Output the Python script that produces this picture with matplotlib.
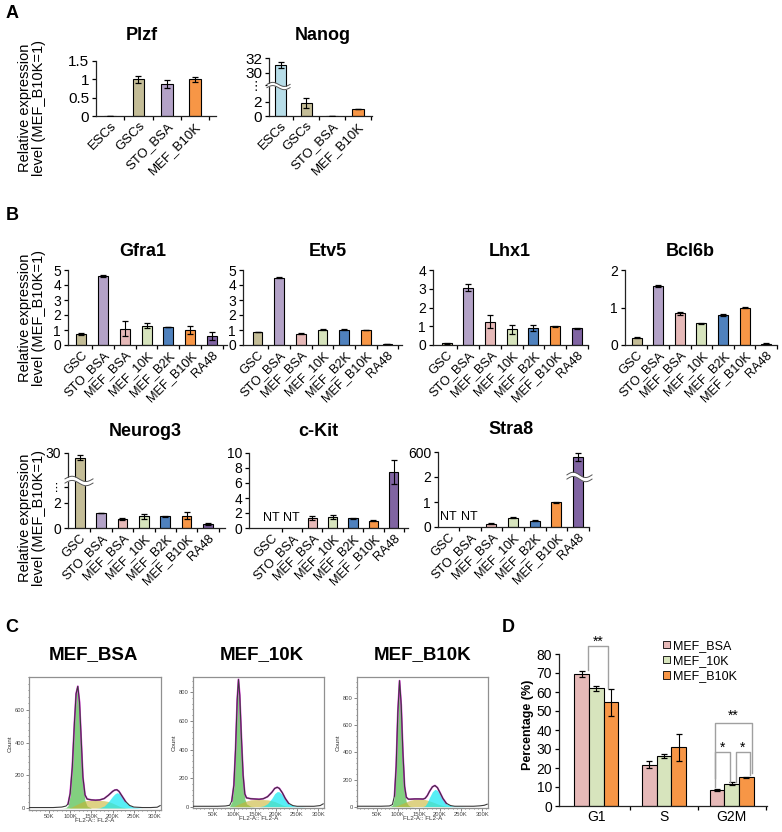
import numpy as np
import matplotlib
matplotlib.use("Agg")
import matplotlib.pyplot as plt
from matplotlib import transforms
from matplotlib.patches import Patch
from matplotlib.ticker import MultipleLocator, NullLocator

plt.rcParams['font.family'] = ['Liberation Sans', 'DejaVu Sans']

W, H = 782, 832
fig = plt.figure(figsize=(W / 100, H / 100), dpi=100)

# ---------------- data ----------------
colors = {'ESCs': '#b7dde8', 'GSCs': '#c4bd97', 'GSC': '#c4bd97', 'STO_BSA': '#b3a2c7',
          'MEF_B10K': '#f79646', 'MEF_BSA': '#e6b9b8', 'MEF_10K': '#d7e4bd',
          'MEF_B2K': '#4f81bd', 'RA48': '#8064a2'}

a_groups = ['ESCs', 'GSCs', 'STO_BSA', 'MEF_B10K']
plzf = [0.01, 1.0, 0.87, 1.0]
plzf_err = [0.0, 0.1, 0.12, 0.06]
nanog = [31.0, 1.9, 0.05, 1.0]
nanog_err = [0.4, 0.7, 0.0, 0.03]

b_groups = ['GSC', 'STO_BSA', 'MEF_BSA', 'MEF_10K', 'MEF_B2K', 'MEF_B10K', 'RA48']
gfra1 = [0.73, 4.62, 1.1, 1.3, 1.2, 1.0, 0.62]
gfra1_err = [0.05, 0.08, 0.5, 0.15, 0.02, 0.25, 0.27]
etv5 = [0.87, 4.5, 0.75, 1.03, 1.03, 1.0, 0.05]
etv5_err = [0.03, 0.05, 0.02, 0.02, 0.02, 0.02, 0.01]
lhx1 = [0.1, 3.05, 1.25, 0.83, 0.9, 1.0, 0.9]
lhx1_err = [0.02, 0.18, 0.33, 0.22, 0.15, 0.03, 0.03]
bcl6b = [0.2, 1.58, 0.85, 0.58, 0.8, 1.0, 0.04]
bcl6b_err = [0.01, 0.02, 0.04, 0.01, 0.02, 0.01, 0.01]
neurog3 = [29.6, 1.2, 0.75, 0.93, 0.96, 1.0, 0.3]
neurog3_err = [0.2, 0.02, 0.08, 0.2, 0.04, 0.25, 0.08]
ckit = [np.nan, np.nan, 1.35, 1.45, 1.3, 1.0, 7.4]
ckit_err = [0, 0, 0.25, 0.25, 0.05, 0.08, 1.6]
stra8 = [np.nan, np.nan, 0.13, 0.38, 0.25, 1.0, 575]
stra8_err = [0, 0, 0.02, 0.02, 0.02, 0.02, 20]

# flow cytometry histograms (x in K, counts)
h1_x = [0, 60, 80, 90, 95, 100, 105, 110, 114, 118, 122, 126, 130, 135, 140, 150,
        160, 170, 180, 190, 200, 205, 210, 215, 220, 230, 240, 250, 270, 290, 305, 312]
h1_tot = [3, 3, 6, 12, 25, 90, 250, 520, 700, 745, 650, 420, 190, 80, 55, 50,
          48, 50, 58, 78, 102, 110, 112, 102, 82, 42, 16, 6, 3, 3, 5, 15]
h1_g1 = [0, 0, 0, 2, 15, 80, 240, 510, 690, 735, 630, 390, 160, 45, 12, 0,
         0, 0, 0, 0, 0, 0, 0, 0, 0, 0, 0, 0, 0, 0, 0, 0]
h1_s = [0, 0, 0, 0, 0, 3, 8, 15, 20, 25, 30, 35, 40, 44, 46, 48,
        48, 47, 45, 40, 30, 24, 18, 12, 7, 2, 0, 0, 0, 0, 0, 0]
h1_g2m = [0, 0, 0, 0, 0, 0, 0, 0, 0, 0, 0, 0, 0, 0, 0, 0,
          0, 2, 12, 38, 72, 86, 94, 90, 75, 40, 16, 5, 0, 0, 0, 0]

h2_x = [0, 60, 80, 90, 95, 100, 104, 108, 111, 114, 118, 122, 126, 130, 140, 150,
        160, 170, 180, 190, 197, 203, 208, 215, 222, 230, 240, 250, 270, 290, 305, 312]
h2_tot = [3, 3, 5, 10, 40, 150, 400, 750, 890, 780, 480, 220, 90, 62, 56, 54,
          52, 56, 70, 100, 128, 136, 128, 98, 58, 24, 8, 3, 3, 3, 8, 20]
h2_g1 = [0, 0, 0, 3, 32, 140, 385, 730, 870, 755, 450, 185, 55, 20, 3, 0,
         0, 0, 0, 0, 0, 0, 0, 0, 0, 0, 0, 0, 0, 0, 0, 0]
h2_s = [0, 0, 0, 0, 0, 3, 8, 14, 18, 22, 27, 32, 36, 40, 48, 50,
        50, 50, 48, 42, 36, 28, 22, 12, 6, 2, 0, 0, 0, 0, 0, 0]
h2_g2m = [0, 0, 0, 0, 0, 0, 0, 0, 0, 0, 0, 0, 0, 0, 0, 0,
          0, 5, 22, 58, 92, 106, 104, 84, 52, 22, 8, 3, 0, 0, 0, 0]

h3_x = [0, 60, 80, 87, 92, 96, 100, 104, 108, 112, 116, 120, 125, 130, 140, 150,
        160, 165, 170, 175, 182, 188, 194, 200, 207, 215, 225, 235, 260, 280, 295, 305, 312]
h3_tot = [3, 3, 5, 15, 80, 300, 700, 930, 750, 400, 150, 70, 55, 55, 57, 57,
          56, 62, 82, 112, 146, 156, 140, 104, 60, 25, 8, 3, 3, 3, 6, 10, 18]
h3_g1 = [0, 0, 0, 10, 70, 285, 680, 905, 720, 365, 115, 35, 10, 2, 0, 0,
         0, 0, 0, 0, 0, 0, 0, 0, 0, 0, 0, 0, 0, 0, 0, 0, 0]
h3_s = [0, 0, 0, 0, 2, 5, 10, 15, 20, 25, 30, 35, 42, 48, 54, 56,
        55, 52, 48, 42, 35, 28, 20, 14, 8, 3, 0, 0, 0, 0, 0, 0, 0]
h3_g2m = [0, 0, 0, 0, 0, 0, 0, 0, 0, 0, 0, 0, 0, 0, 0, 0,
          1, 8, 32, 68, 110, 128, 120, 90, 52, 22, 8, 3, 0, 0, 0, 0, 0]

# cell cycle
phases = ['G1', 'S', 'G2M']
d_series = ['MEF_BSA', 'MEF_10K', 'MEF_B10K']
pct_bsa = [69.5, 21.7, 8.6]
pct_bsa_err = [1.8, 1.8, 0.5]
pct_10k = [62.0, 26.4, 11.8]
pct_10k_err = [1.3, 1.2, 0.7]
pct_b10k = [54.5, 30.8, 15.2]
pct_b10k_err = [7.2, 7.2, 0.3]


def px_axes(x0, y0, x1, y1):
    return fig.add_axes([x0 / W, 1 - y1 / H, (x1 - x0) / W, (y1 - y0) / H])


def broken(v_pts, y_pts):
    return (lambda v: np.interp(v, v_pts, y_pts), lambda y: np.interp(y, y_pts, v_pts))


def style_axes(ax):
    for s in ['top', 'right']:
        ax.spines[s].set_visible(False)
    for s in ['left', 'bottom']:
        ax.spines[s].set_linewidth(0.9)
        ax.spines[s].set_color('#222222')
    ax.tick_params(axis='y', direction='out', length=3, width=0.9, pad=2)
    ax.tick_params(axis='x', which='major', length=0, pad=3)
    ax.tick_params(axis='x', which='minor', direction='out', length=3, width=0.9)
    ax.yaxis.set_minor_locator(NullLocator())
    ax.patch.set_alpha(0)


def bar_chart(rect, groups, vals, errs, xlim, ylim, yticks, ylabels, title, txy,
              xfs=9.2, yfs=10, width=0.46, scale=None):
    ax = px_axes(*rect)
    if scale is not None:
        ax.set_yscale('function', functions=scale)
    x = np.arange(len(groups))
    vals = np.asarray(vals, float)
    errs = np.asarray(errs, float)
    ok = np.isfinite(vals)
    cols = [colors[g] for g, k in zip(groups, ok) if k]
    ax.bar(x[ok], vals[ok], width=width, color=cols, edgecolor='black', linewidth=0.8, zorder=2)
    ax.errorbar(x[ok], vals[ok], yerr=errs[ok], fmt='none', ecolor='black',
                elinewidth=0.8, capsize=2.5, capthick=0.9, zorder=3)
    ax.set_xlim(*xlim)
    ax.set_ylim(*ylim)
    ax.set_yticks(yticks)
    ax.set_yticklabels(ylabels, fontsize=yfs)
    for t in ax.get_yticklabels():
        if t.get_text() == '\u22ee':
            t.set_fontsize(yfs - 2)
    ax.set_xticks(x)
    ax.set_xticklabels(groups, rotation=45, ha='right', rotation_mode='anchor', fontsize=xfs)
    ax.set_xticks(x + 0.5, minor=True)
    style_axes(ax)
    fig.text(txy[0] / W, 1 - txy[1] / H, title, fontsize=13, fontweight='bold',
             ha='center', va='center')
    return ax


def break_wave(ax, x0, x1, yfrac):
    tr = transforms.blended_transform_factory(ax.transData, ax.transAxes)
    t = np.linspace(0, 1, 60)
    xs = x0 + (x1 - x0) * t
    wig = 0.035 * np.sin(2 * np.pi * t)
    lo = yfrac - 0.028 + wig
    hi = yfrac + 0.028 + wig
    ax.fill_between(xs, lo, hi, transform=tr, color='white', zorder=6, clip_on=False, linewidth=0)
    ax.plot(xs, lo, transform=tr, color='#555555', lw=0.7, zorder=7, clip_on=False)
    ax.plot(xs, hi, transform=tr, color='#555555', lw=0.7, zorder=7, clip_on=False)


def nt_labels(ax, xs):
    tr = transforms.blended_transform_factory(ax.transData, ax.transAxes)
    for xx in xs:
        ax.text(xx, 0.135, 'NT', transform=tr, ha='center', va='center', fontsize=9)


def ylab(y):
    fig.text(32 / W, 1 - y / H, 'Relative expression\nlevel (MEF_B10K=1)', rotation=90,
             ha='center', va='center', fontsize=10.5, linespacing=0.92, multialignment='center')


# ---------------- panel A ----------------
bar_chart((96, 61, 216, 116), a_groups, plzf, plzf_err, (-0.5, 3.74), (0, 1.5),
          [0, 0.5, 1, 1.5], ['0', '0.5', '1', '1.5'], 'Plzf', (142, 35),
          xfs=9.5, yfs=11, width=0.42)
ax_n = bar_chart((269, 58, 372, 116), a_groups, nanog, nanog_err, (-0.45, 3.55), (0, 32),
                 [0, 2, 16, 30, 32], ['0', '2', '\u22ee', '30', '32'], 'Nanog', (323, 35),
                 xfs=9.5, yfs=11, width=0.45,
                 scale=broken([-10, 4.3, 28.5, 100], [-10, 4.3, 4.53, 81.0]))
break_wave(ax_n, -0.53, 0.37, 0.517)
ylab(108)

# ---------------- panel B ----------------
bar_chart((68, 270, 227, 345), b_groups, gfra1, gfra1_err, (-0.62, 6.7), (0, 5),
          range(6), [str(i) for i in range(6)], 'Gfra1', (143, 252))
bar_chart((243, 270, 402, 345), b_groups, etv5, etv5_err, (-0.67, 6.67), (0, 5),
          range(6), [str(i) for i in range(6)], 'Etv5', (328, 252))
bar_chart((433, 270, 588, 345), b_groups, lhx1, lhx1_err, (-0.63, 6.52), (0, 4),
          range(5), [str(i) for i in range(5)], 'Lhx1', (510, 252))
bar_chart((625, 270, 777, 345), b_groups, bcl6b, bcl6b_err, (-0.54, 6.48), (0, 2),
          [0, 1, 2], ['0', '1', '2'], 'Bcl6b', (690, 252))
ylab(318)

ax_ng = bar_chart((68, 453, 225, 528), b_groups, neurog3, neurog3_err, (-0.55, 6.8), (0, 30),
                  [0, 2, 3.3, 30], ['0', '2', '\u22ee', '30'], 'Neurog3', (145, 431),
                  scale=broken([-10, 3.6, 27.8, 100], [-10, 3.6, 3.8, 76.0]))
break_wave(ax_ng, -0.69, 0.62, 0.627)
ax_ck = bar_chart((249, 453, 408, 528), b_groups, ckit, ckit_err, (-1.1, 6.7), (0, 10),
                  [0, 2, 4, 6, 8, 10], ['0', '2', '4', '6', '8', '10'], 'c-Kit', (318, 431))
nt_labels(ax_ck, [0, 1])
ax_st = bar_chart((438, 452, 589, 527), b_groups, stra8, stra8_err, (-0.47, 6.51), (0, 600),
                  [0, 1, 2, 600], ['0', '1', '2', '600'], 'Stra8', (511, 429),
                  scale=broken([-10, 2.1, 500, 2000], [-10, 2.1, 2.2, 14.2]))
break_wave(ax_st, 5.49, 6.65, 0.667)
nt_labels(ax_st, [0, 1])
ylab(518)


# ---------------- panel C ----------------
def hist_panel(rect, x, tot, g1, s, g2m, ylim, ytop, title, tx):
    ax = px_axes(*rect)
    tot = np.asarray(tot, float)
    ax.fill_between(x, 0, g1, color='#40b83a', alpha=0.65, linewidth=0, zorder=2)
    ax.fill_between(x, 0, s, color='#c8b432', alpha=0.6, linewidth=0, zorder=2)
    ax.fill_between(x, 0, g2m, color='#10e8f2', alpha=0.7, linewidth=0, zorder=2)
    # model fit (magenta) only shows around the peaks, data line (dark) on top
    ax.plot(x, np.where(tot > 20, tot, np.nan), color='#e030e0', lw=1.3, zorder=3)
    ax.plot(x, tot, color='#3a3a3a', lw=0.8, zorder=4)
    ax.set_xlim(3, 314)
    ax.set_ylim(*ylim)
    ax.set_xticks([50, 100, 150, 200, 250, 300])
    ax.set_xticklabels(['50K', '100K', '150K', '200K', '250K', '300K'])
    ax.set_yticks(np.arange(0, ytop + 1, 200))
    ax.xaxis.set_minor_locator(MultipleLocator(10))
    ax.yaxis.set_minor_locator(MultipleLocator(40))
    ax.tick_params(which='both', labelsize=4.2, labelcolor='#444444', color='#555555', width=0.5, pad=1)
    ax.tick_params(which='major', length=2)
    ax.tick_params(which='minor', length=1)
    for sp in ax.spines.values():
        sp.set_color('#909090')
        sp.set_linewidth(0.9)
    ax.set_ylabel('Count', fontsize=4.5, labelpad=2, color='#333333')
    ax.set_xlabel('FL2-A:: FL2-A', fontsize=4.5, labelpad=-1, color='#333333')
    fig.text(tx / W, 1 - 655 / H, title, fontsize=13.5, fontweight='bold', ha='center', va='center')


hist_panel((29, 677, 161, 810), h1_x, h1_tot, h1_g1, h1_s, h1_g2m, (-12, 802), 600, 'MEF_BSA', 93)
hist_panel((193, 677, 324, 808), h2_x, h2_tot, h2_g1, h2_s, h2_g2m, (-9, 907), 800, 'MEF_10K', 262)
hist_panel((357, 677, 488, 808), h3_x, h3_tot, h3_g1, h3_s, h3_g2m, (-10, 957), 800, 'MEF_B10K', 423)

# ---------------- panel D ----------------
axd = px_axes(559, 654, 767, 806)
xd = np.arange(len(phases))
bw = 0.215
for off, name, vals, errs in [(-bw, 'MEF_BSA', pct_bsa, pct_bsa_err),
                              (0, 'MEF_10K', pct_10k, pct_10k_err),
                              (bw, 'MEF_B10K', pct_b10k, pct_b10k_err)]:
    axd.bar(xd + off, vals, width=bw, color=colors[name], edgecolor='black', linewidth=0.8,
            zorder=2, label=name)
    axd.errorbar(xd + off, vals, yerr=errs, fmt='none', ecolor='black', elinewidth=0.8,
                 capsize=2.5, capthick=0.9, zorder=3)
axd.set_xlim(-0.55, 2.52)
axd.set_ylim(0, 80)
axd.set_yticks(range(0, 81, 10))
axd.set_yticklabels([str(v) for v in range(0, 81, 10)], fontsize=10)
axd.set_xticks(xd)
axd.set_xticklabels(phases, fontsize=10)
axd.set_xticks(xd + 0.5, minor=True)
style_axes(axd)
fig.text(528 / W, 1 - 725 / H, 'Percentage (%)', rotation=90, fontsize=9, fontweight='bold',
         ha='center', va='center')

brackets = [(-0.12, 0.18, 84.4, 71.6, 62.0, '**', 86.5),
            (1.751, 2.292, 43.9, 14.6, 17.2, '**', 47.4),
            (1.751, 1.972, 28.2, 10.2, 12.8, '*', 30.4),
            (2.056, 2.267, 28.2, 12.8, 16.3, '*', 30.4)]
for xl, xr, yt, yl, yr, lab, ylab_ in brackets:
    axd.plot([xl, xl, xr, xr], [yl, yt, yt, yr], color='#a0a0a0', lw=1.0, clip_on=False, zorder=4)
    axd.text((xl + xr) / 2, ylab_, lab, ha='center', va='center', fontsize=10, clip_on=False)

handles = [Patch(facecolor=colors[n], edgecolor='black', linewidth=0.6) for n in d_series]
axd.legend(handles, d_series, loc='upper left', bbox_to_anchor=(663 / W, 1 - 640 / H),
           bbox_transform=fig.transFigure, frameon=False, fontsize=9, handlelength=0.55,
           handleheight=0.55, handletextpad=0.25, labelspacing=0.25, borderpad=0, borderaxespad=0)

# panel letters
for lab, (lx, ly) in {'A': (12, 14), 'B': (12, 215), 'C': (12, 627), 'D': (508, 627)}.items():
    fig.text(lx / W, 1 - ly / H, lab, fontsize=13, fontweight='bold', ha='center', va='center')

fig.savefig('out.png', dpi=100)
